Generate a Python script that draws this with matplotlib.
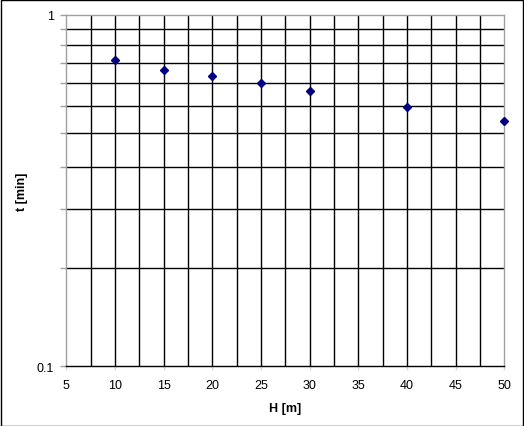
import numpy as np
import matplotlib
matplotlib.use("Agg")
import matplotlib.pyplot as plt
from matplotlib.ticker import FixedLocator, NullFormatter

# --- datos ---
H = [10, 15, 20, 25, 30, 40, 50]
t = [0.746, 0.697, 0.669, 0.639, 0.608, 0.548, 0.498]

x_ticks = [5, 10, 15, 20, 25, 30, 35, 40, 45, 50]
y_ticks = [0.1, 1]
y_tick_labels = ["0.1", "1"]

plt.rcParams['font.family'] = ['Liberation Sans', 'DejaVu Sans']

fig = plt.figure(figsize=(5.24, 4.27), dpi=100)
W, Hpx = 524, 427
ax = fig.add_axes([66.3 / W, (Hpx - 367.3) / Hpx, (504.3 - 66.3) / W, (367.3 - 16) / Hpx])

ax.set_yscale('log')
ax.set_xlim(5, 50)
ax.set_ylim(0.1, 1)

# rejilla: verticales cada 2.5, horizontales cada 0.09 (unidad menor)
for xv in np.arange(7.5, 50, 2.5):
    ax.axvline(xv, color='black', lw=1, zorder=1)
for yv in np.arange(0.19, 0.95, 0.09):
    ax.axhline(yv, color='black', lw=1, zorder=1)

ax.plot(H, t, linestyle='none', marker='D', markersize=4,
        color='#000080', zorder=3, clip_on=False)

ax.set_xticks(x_ticks)
ax.set_xticklabels([str(v) for v in x_ticks])
ax.set_yticks(y_ticks)
ax.set_yticklabels(y_tick_labels)
ax.yaxis.set_minor_locator(FixedLocator(list(np.arange(0.19, 0.95, 0.09))))
ax.yaxis.set_minor_formatter(NullFormatter())

ax.tick_params(axis='y', which='both', direction='out', length=4, width=1,
               color='#a0a0a0', labelsize=9, pad=5)
ax.tick_params(axis='x', which='both', direction='out', length=3, width=1,
               color='#d8d8d8', labelsize=9, pad=6)

for side in ['left', 'right', 'top']:
    ax.spines[side].set_color('#a0a0a0')
    ax.spines[side].set_linewidth(1)
ax.spines['bottom'].set_color('black')
ax.spines['bottom'].set_linewidth(1)

ax.set_xlabel('H [m]', fontsize=9, fontweight='bold', labelpad=8)
ax.set_ylabel('t [min]', fontsize=9, fontweight='bold')
ax.yaxis.set_label_coords(-38 / 438, 0.5)

# marco exterior
fig.patches.append(plt.Rectangle((0.5 / W, 0.5 / Hpx), 1 - 1.5 / W, 1 - 1.5 / Hpx,
                                 transform=fig.transFigure, fill=False,
                                 edgecolor='black', lw=1))

fig.savefig('out.png', dpi=100)
